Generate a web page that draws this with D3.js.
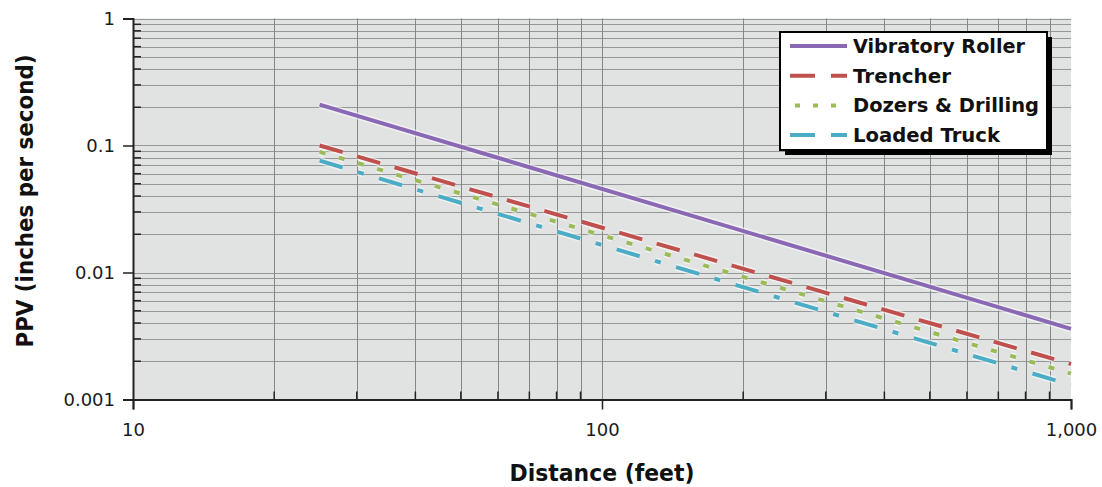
<!DOCTYPE html>
<html>
<head>
<meta charset="utf-8">
<script src="https://cdn.jsdelivr.net/npm/d3@7"></script>
<style>
  body { margin: 0; background: #fff; }
  svg { display: block; font-family: "DejaVu Sans", Verdana, sans-serif; }
</style>
</head>
<body>
<div id="chart"></div>
<script>
// values (ppv at 25 ft and at 1000 ft)
const distances = [25, 1000];
const vibratoryRoller = [0.21, 0.0036];
const trencher = [0.1, 0.0019];
const dozersDrilling = [0.089, 0.0016];
const loadedTruck = [0.076, 0.0013];

const seriesNames = ["Vibratory Roller", "Trencher", "Dozers & Drilling", "Loaded Truck"];
const seriesValues = [vibratoryRoller, trencher, dozersDrilling, loadedTruck];
const seriesColors = ["#8a68b4", "#c0504d", "#9bbb59", "#4bacc6"];
const seriesDashes = [null, "24,15", "6,14", "24,16,6,16"];

const xMajorTicks = [10, 100, 1000];
const xTickLabels = ["10", "100", "1,000"];
const yMajorTicks = [0.001, 0.01, 0.1, 1];
const yTickLabels = ["0.001", "0.01", "0.1", "1"];

const width = 1102, height = 487;
const margin = {left: 133, right: 31, top: 18.5, bottom: 87.5};

const svg = d3.select("#chart").append("svg")
    .attr("width", width)
    .attr("height", height);

const x = d3.scaleLog().domain([10, 1000]).range([margin.left, width - margin.right]);
const y = d3.scaleLog().domain([0.001, 1]).range([height - margin.bottom, margin.top]);

// minor ticks 2..9 for each decade
function minors(lo, hi) {
    const out = [];
    for (let d = lo; d < hi; d *= 10) {
        for (let k = 2; k <= 9; k++) out.push(d * k);
    }
    return out;
}
const xMinor = minors(10, 1000);
const yMinor = minors(0.001, 1);

// plot background
svg.append("rect")
    .attr("x", x(10)).attr("y", y(1))
    .attr("width", x(1000) - x(10))
    .attr("height", y(0.001) - y(1))
    .attr("fill", "#e1e3e3");

// grid
const grid = svg.append("g").attr("stroke", "#969898").attr("stroke-width", 1);
grid.selectAll("line.hy")
    .data(yMinor.concat(yMajorTicks.slice(1)))
    .join("line")
    .attr("x1", x(10)).attr("x2", x(1000))
    .attr("y1", d => Math.round(y(d)) + 0.5).attr("y2", d => Math.round(y(d)) + 0.5);
grid.selectAll("line.vx")
    .data(xMinor.concat([100]))
    .join("line")
    .attr("stroke", "#858787")
    .attr("y1", y(1)).attr("y2", y(0.001))
    .attr("x1", d => Math.round(x(d)) + 0.5).attr("x2", d => Math.round(x(d)) + 0.5);

// series lines
const line = d3.line()
    .x((d, i) => x(distances[i]))
    .y(d => y(d));

const lines = svg.append("g").attr("fill", "none");
seriesValues.forEach((vals, i) => {
    // soft light halo like the original
    lines.append("path")
        .attr("d", line(vals))
        .attr("stroke", "#ffffff")
        .attr("stroke-opacity", 0.55)
        .attr("stroke-width", 7)
        .attr("stroke-dasharray", seriesDashes[i]);
    lines.append("path")
        .attr("d", line(vals))
        .attr("stroke", seriesColors[i])
        .attr("stroke-width", 4)
        .attr("stroke-dasharray", seriesDashes[i]);
});

// axes
const xAxis = svg.append("g")
    .attr("transform", `translate(0,${y(0.001)})`)
    .call(d3.axisBottom(x).tickValues(xMajorTicks).tickSize(10).tickPadding(10)
        .tickFormat((d, i) => xTickLabels[i]));
xAxis.append("g").selectAll("line")
    .data(xMinor)
    .join("line")
    .attr("x1", d => x(d)).attr("x2", d => x(d))
    .attr("y1", 0).attr("y2", -8)
    .attr("stroke", "#222").attr("stroke-width", 1.5);

const yAxis = svg.append("g")
    .attr("transform", `translate(${x(10)},0)`)
    .call(d3.axisLeft(y).tickValues(yMajorTicks).tickSize(10).tickPadding(8)
        .tickFormat((d, i) => yTickLabels[i]));
yAxis.append("g").selectAll("line")
    .data(yMinor)
    .join("line")
    .attr("y1", d => y(d)).attr("y2", d => y(d))
    .attr("x1", 0).attr("x2", 8)
    .attr("stroke", "#222").attr("stroke-width", 1.5);

[xAxis, yAxis].forEach(a => {
    a.select(".domain").attr("stroke", "#222").attr("stroke-width", 2);
    a.selectAll(".tick line").attr("stroke", "#222").attr("stroke-width", 1.5);
    a.selectAll(".tick text")
        .attr("fill", "#1a1a1a")
        .style("font-size", "18px")
        .style("font-family", "\"DejaVu Sans\", Verdana, sans-serif");
});
xAxis.selectAll(".tick text").attr("dy", "0.9em");

// axis titles
svg.append("text")
    .attr("x", (x(10) + x(1000)) / 2)
    .attr("y", 481)
    .attr("text-anchor", "middle")
    .attr("font-weight", "bold")
    .attr("font-size", 23)
    .attr("textLength", 185)
    .attr("lengthAdjust", "spacingAndGlyphs")
    .attr("fill", "#111")
    .text("Distance (feet)");

svg.append("text")
    .attr("transform", `translate(33,${(y(1) + y(0.001)) / 2 - 8}) rotate(-90)`)
    .attr("text-anchor", "middle")
    .attr("font-weight", "bold")
    .attr("font-size", 23)
    .attr("textLength", 293)
    .attr("lengthAdjust", "spacingAndGlyphs")
    .attr("fill", "#111")
    .text("PPV (inches per second)");

// legend
const legend = svg.append("g").attr("transform", "translate(780,32)");
legend.append("rect")
    .attr("x", 5).attr("y", 5)
    .attr("width", 267).attr("height", 118)
    .attr("fill", "#000");
legend.append("rect")
    .attr("width", 267).attr("height", 118)
    .attr("fill", "#fff")
    .attr("stroke", "#000").attr("stroke-width", 2);

const legendLabelWidths = [172, 98, 186, 147];
const item = legend.selectAll("g.item")
    .data(seriesNames)
    .join("g")
    .attr("transform", (d, i) => `translate(0,${14 + i * 29.7})`);
item.append("line")
    .attr("x1", 10).attr("x2", 67)
    .attr("y1", 0).attr("y2", 0)
    .attr("stroke", (d, i) => seriesColors[i])
    .attr("stroke-width", 4)
    .attr("stroke-dasharray", (d, i) => seriesDashes[i] ? (i === 2 ? "5,13" : "25,16") : null)
    .attr("stroke-dashoffset", (d, i) => i === 2 ? -5 : 0);
item.append("text")
    .attr("x", 73)
    .attr("y", 7)
    .attr("font-weight", "bold")
    .attr("font-size", 20)
    .attr("textLength", (d, i) => legendLabelWidths[i])
    .attr("lengthAdjust", "spacingAndGlyphs")
    .attr("fill", "#111")
    .text(d => d);
</script>
</body>
</html>
